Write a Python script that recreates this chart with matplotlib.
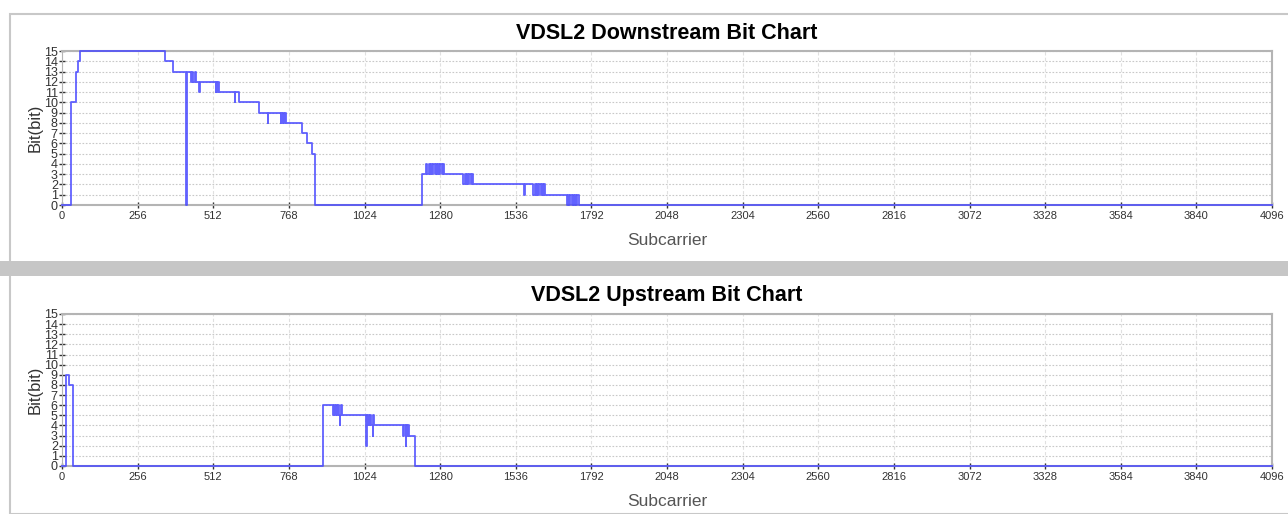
import matplotlib
matplotlib.use("Agg")
from matplotlib import pyplot as plt
from matplotlib.patches import Rectangle

# step breakpoints: subcarrier where a new bit value starts
ds_sub = [0, 30, 48, 54, 62, 347, 377, 420, 422, 437, 441, 445, 449, 453, 465, 467,
          520, 523, 526, 529, 532, 585, 587, 600, 667, 697, 699, 740, 743, 746, 749,
          752, 755, 758, 814, 829, 846, 856,
          1218, 1233, 1237, 1241, 1245, 1249, 1253, 1257, 1261, 1265, 1269, 1273, 1277,
          1281, 1285, 1289, 1293, 1297,
          1359, 1363, 1367, 1371, 1375, 1379, 1383, 1387, 1391,
          1565, 1567, 1596, 1600, 1604, 1608, 1612, 1616, 1620, 1624, 1628, 1632, 1636, 1641,
          1709, 1713, 1717, 1721, 1725, 1729, 1733, 1737, 1741, 1745, 1751, 4096]
ds_bits = [0, 10, 13, 14, 15, 14, 13, 0, 13, 12, 13, 12, 13, 12, 11, 12,
           11, 12, 11, 12, 11, 10, 11, 10, 9, 8, 9, 8, 9, 8, 9,
           8, 9, 8, 7, 6, 5, 0,
           3, 4, 3, 4, 3, 4, 3, 4, 3, 4, 3, 4, 3,
           4, 3, 4, 3, 3,
           2, 3, 2, 3, 2, 3, 2, 3, 2,
           1, 2, 1, 2, 1, 2, 1, 2, 1, 2, 1, 2, 1, 1,
           0, 1, 0, 1, 0, 1, 0, 1, 0, 1, 0, 0]

us_sub = [0, 15, 25, 38, 885, 919, 922, 925, 928, 931, 934, 937, 940, 942, 946, 948,
          1029, 1031, 1034, 1037, 1040, 1043, 1046, 1052, 1054, 1056,
          1156, 1159, 1163, 1165, 1168, 1171, 1174, 1178, 1195, 4096]
us_bits = [0, 9, 8, 0, 6, 5, 6, 5, 6, 5, 6, 5, 4, 5, 6, 5,
           2, 5, 4, 5, 4, 5, 4, 3, 5, 4,
           3, 4, 2, 4, 3, 4, 3, 3, 0, 0]

x_ticks = [0, 256, 512, 768, 1024, 1280, 1536, 1792, 2048, 2304, 2560, 2816,
           3072, 3328, 3584, 3840, 4096]
y_ticks = list(range(16))

plt.rcParams['font.family'] = ['Liberation Sans', 'DejaVu Sans']

fig = plt.figure(figsize=(12.88, 5.14), dpi=100)

# panel frame and grey separator
fig.patches.append(Rectangle((10 / 1288, 0), 1, 500 / 514, transform=fig.transFigure,
                             facecolor='none', edgecolor='#c8c8c8', lw=1.5, zorder=-1))
fig.patches.append(Rectangle((0, (514 - 276) / 514), 1, 15 / 514, transform=fig.transFigure,
                             facecolor='#c6c6c6', edgecolor='none', zorder=-1))


def draw_panel(rect, sub, bits, title):
    ax = fig.add_axes(rect)
    ax.step(sub, bits, where='post', color='#4646ff', lw=1.3, alpha=0.85, clip_on=False,
            zorder=5)
    ax.set_xlim(0, 4096)
    ax.set_ylim(0, 15)
    ax.set_xticks(x_ticks)
    ax.set_yticks(y_ticks)
    ax.tick_params(axis='both', direction='inout', length=4, width=1, color='#333333',
                   labelcolor='#333333', pad=1)
    ax.tick_params(axis='x', labelsize=8, pad=2)
    ax.tick_params(axis='y', labelsize=9)
    ax.yaxis.grid(True, linestyle=(0, (1.5, 1.5)), color='#c8c8c8', lw=0.8)
    ax.xaxis.grid(True, linestyle=(0, (3, 2)), color='#e0e0e0', lw=0.8)
    for side in ['top', 'bottom', 'right']:
        ax.spines[side].set_color('#b4b4b4')
        ax.spines[side].set_linewidth(1.5)
    ax.spines['left'].set_color('#b4b4b4')
    ax.set_title(title, fontsize=15.5, fontweight='bold', pad=9)
    ax.set_xlabel('Subcarrier', fontsize=12.5, color='#555555', labelpad=9)
    ax.set_ylabel('Bit(bit)', fontsize=12, color='#333333', labelpad=1)
    return ax


draw_panel([62 / 1288, 1 - 205 / 514, 1210 / 1288, 154 / 514], ds_sub, ds_bits,
           'VDSL2 Downstream Bit Chart')
draw_panel([62 / 1288, 1 - 466 / 514, 1210 / 1288, 152 / 514], us_sub, us_bits,
           'VDSL2 Upstream Bit Chart')

fig.savefig('out.png', dpi=100)
plt.close(fig)
